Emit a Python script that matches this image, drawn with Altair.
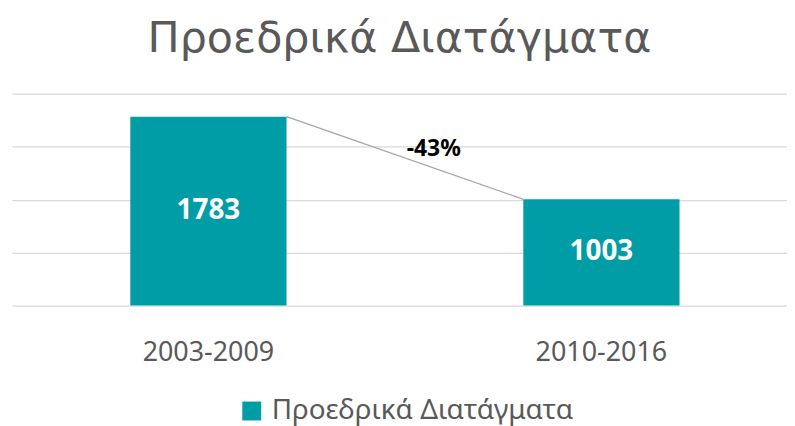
import altair as alt
import pandas as pd

categories = ["2003-2009", "2010-2016"]
values = [1783, 1003]
series_name = "Προεδρικά Διατάγματα"
change_label = "-43%"
grid_values = [0, 500, 1000, 1500, 2000]

bars_df = pd.DataFrame({"cat": categories, "value": values, "series": [series_name] * 2})
conn_df = pd.DataFrame({"cat": [categories[0]], "cat2": [categories[1]],
                        "v1": [values[0]], "v2": [values[1]]})
lab_df = pd.DataFrame({"cat": [categories[1]], "v": [(values[0] + values[1]) / 2], "t": [change_label]})

FONT = "Noto Sans"
GRAY = "#595959"
TEAL = "#019DA7"

xscale = alt.Scale(paddingInner=0.6025, paddingOuter=0.2873, align=0.524)
yscale = alt.Scale(domain=[0, 2000])

x_enc = alt.X("cat:N", scale=xscale, sort=categories,
              axis=alt.Axis(title=None, labelAngle=0, ticks=False, domain=False,
                            labelFontSize=27, labelColor=GRAY, labelFont=FONT,
                            labelPadding=34, grid=False))
y_enc = alt.Y("value:Q", scale=yscale,
              axis=alt.Axis(title=None, labels=False, ticks=False, domain=False,
                            values=grid_values, grid=True, gridColor="#d9d9d9", gridWidth=1.3))

bars = alt.Chart(bars_df).mark_bar(color=TEAL).encode(
    x=x_enc,
    y=y_enc,
    color=alt.Color("series:N", scale=alt.Scale(range=[TEAL]),
                    legend=alt.Legend(title=None, orient="none", legendX=227, legendY=305,
                                      symbolType="square", symbolSize=361, symbolStrokeWidth=0,
                                      labelFontSize=28, labelColor=GRAY, labelFont=FONT,
                                      labelOffset=6, padding=0, labelLimit=500)),
)

bar_labels = alt.Chart(bars_df).transform_calculate(mid="datum.value / 2").mark_text(
    color="white", fontSize=28, fontWeight="bold", font=FONT, baseline="middle"
).encode(
    x=alt.X("cat:N", sort=categories),
    y=alt.Y("mid:Q"),
    text=alt.Text("value:Q"),
)

connector = alt.Chart(conn_df).mark_rule(color="#a6a6a6", strokeWidth=1.3).encode(
    x=alt.X("cat:N", sort=categories, bandPosition=1),
    x2=alt.X2("cat2", bandPosition=0),
    y=alt.Y("v1:Q"),
    y2=alt.Y2("v2"),
)

change = alt.Chart(lab_df).mark_text(
    color="black", fontSize=23, fontWeight="bold", font=FONT, dx=-90, dy=-2,
    baseline="alphabetic", align="center"
).encode(
    x=alt.X("cat:N", sort=categories, bandPosition=0),
    y=alt.Y("v:Q"),
    text="t:N",
)

chart = alt.layer(bars, connector, bar_labels, change).properties(
    width=779, height=213,
    title=alt.Title(series_name, fontSize=43, font="DejaVu Sans", color=GRAY,
                    fontWeight="normal", anchor="middle", offset=33),
    autosize=alt.AutoSizeParams(type="none"),
    padding={"left": 4, "top": 85, "right": 0, "bottom": 120},
).configure_view(stroke=None)

chart.save("out.html", embed_options={"renderer": "svg", "actions": False})
